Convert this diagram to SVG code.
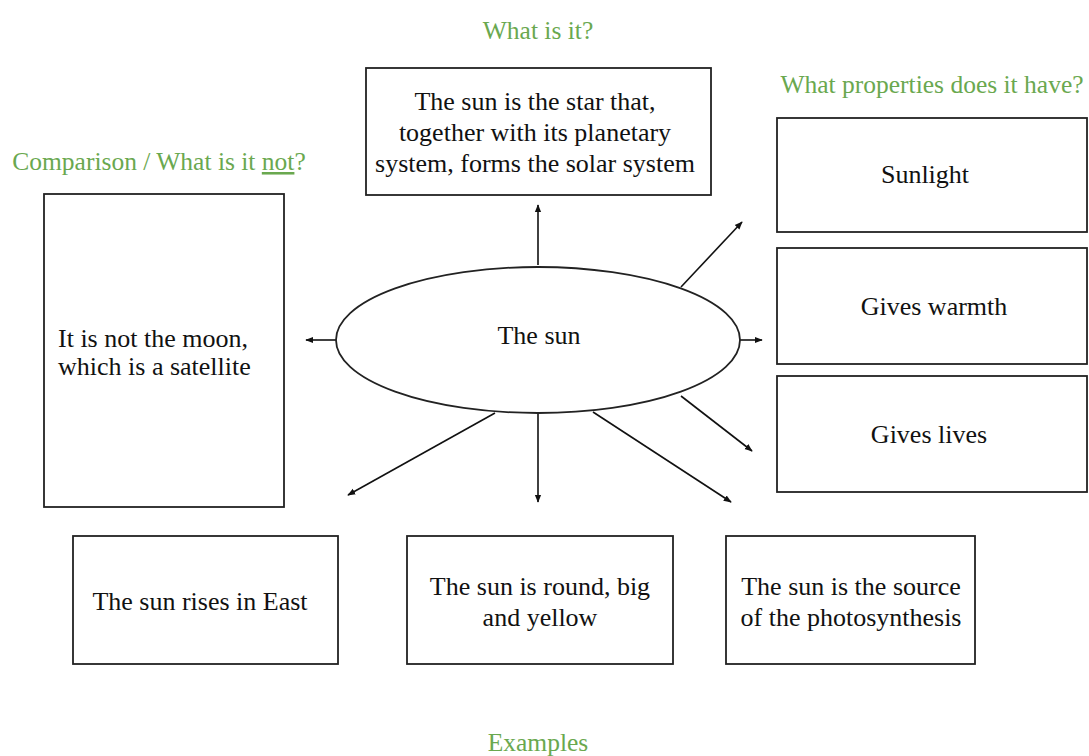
<svg xmlns="http://www.w3.org/2000/svg" width="1089" height="756" viewBox="0 0 1089 756">
<style>
.box{fill:#fff;stroke:#222;stroke-width:1.8}
.t{font-family:"Liberation Serif","Times New Roman",serif;font-size:26px;fill:#111;text-anchor:middle}
.ts{font-family:"Liberation Serif","Times New Roman",serif;font-size:26px;fill:#111;text-anchor:start}
.g{font-family:"Liberation Serif","Times New Roman",serif;font-size:25.5px;fill:#6aa84f;text-anchor:middle}
.c{stroke:#111;stroke-width:1.6;fill:none;marker-end:url(#ah)}
</style>
<defs>
<marker id="ah" viewBox="0 0 10 10" refX="9" refY="5" markerWidth="8" markerHeight="8" markerUnits="userSpaceOnUse" orient="auto"><path d="M0,1 L10,5 L0,9 z" fill="#111"/></marker>
</defs>
<rect width="1089" height="756" fill="#fff"/>
<g id="labels">
<text class="g" x="538" y="39">What is it?</text>
<text class="g" x="932" y="93">What properties does it have?</text>
<text class="g" x="159" y="170">Comparison / What is it <tspan text-decoration="underline">not</tspan>?</text>
<text class="g" x="538" y="751">Examples</text>
</g>
<g id="connectors">
<line class="c" x1="538" y1="265" x2="538" y2="205"/>
<line class="c" x1="681" y1="287" x2="742" y2="222"/>
<line class="c" x1="336" y1="340" x2="306" y2="340"/>
<line class="c" x1="739" y1="340" x2="762" y2="340"/>
<line class="c" x1="681" y1="396" x2="752" y2="451"/>
<line class="c" x1="495" y1="413" x2="348" y2="495"/>
<line class="c" x1="538" y1="413" x2="538" y2="502"/>
<line class="c" x1="593" y1="412" x2="731" y2="502"/>
</g>
<g id="sun">
<ellipse class="box" cx="538" cy="340" rx="202" ry="73"/>
<text class="t" x="539" y="344">The sun</text>
</g>
<g id="what">
<rect class="box" x="366" y="68" width="345" height="127"/>
<text class="t" x="535" y="110">The sun is the star that,</text>
<text class="t" x="535" y="141">together with its planetary</text>
<text class="t" x="535" y="172">system, forms the solar system</text>
</g>
<g id="sunlight">
<rect class="box" x="777" y="118" width="310" height="114"/>
<text class="t" x="925" y="183">Sunlight</text>
</g>
<g id="warmth">
<rect class="box" x="777" y="248" width="310" height="116"/>
<text class="t" x="934" y="315">Gives warmth</text>
</g>
<g id="lives">
<rect class="box" x="777" y="376" width="310" height="116"/>
<text class="t" x="929" y="443">Gives lives</text>
</g>
<g id="notmoon">
<rect class="box" x="44" y="194" width="240" height="313"/>
<text class="ts" x="58" y="347">It is not the moon,</text>
<text class="ts" x="58" y="375">which is a satellite</text>
</g>
<g id="east">
<rect class="box" x="73" y="536" width="265" height="128"/>
<text class="t" x="200" y="610">The sun rises in East</text>
</g>
<g id="round">
<rect class="box" x="407" y="536" width="266" height="128"/>
<text class="t" x="540" y="595">The sun is round, big</text>
<text class="t" x="540" y="626">and yellow</text>
</g>
<g id="photo">
<rect class="box" x="726" y="536" width="249" height="128"/>
<text class="t" x="851" y="595">The sun is the source</text>
<text class="t" x="851" y="626">of the photosynthesis</text>
</g>
</svg>
